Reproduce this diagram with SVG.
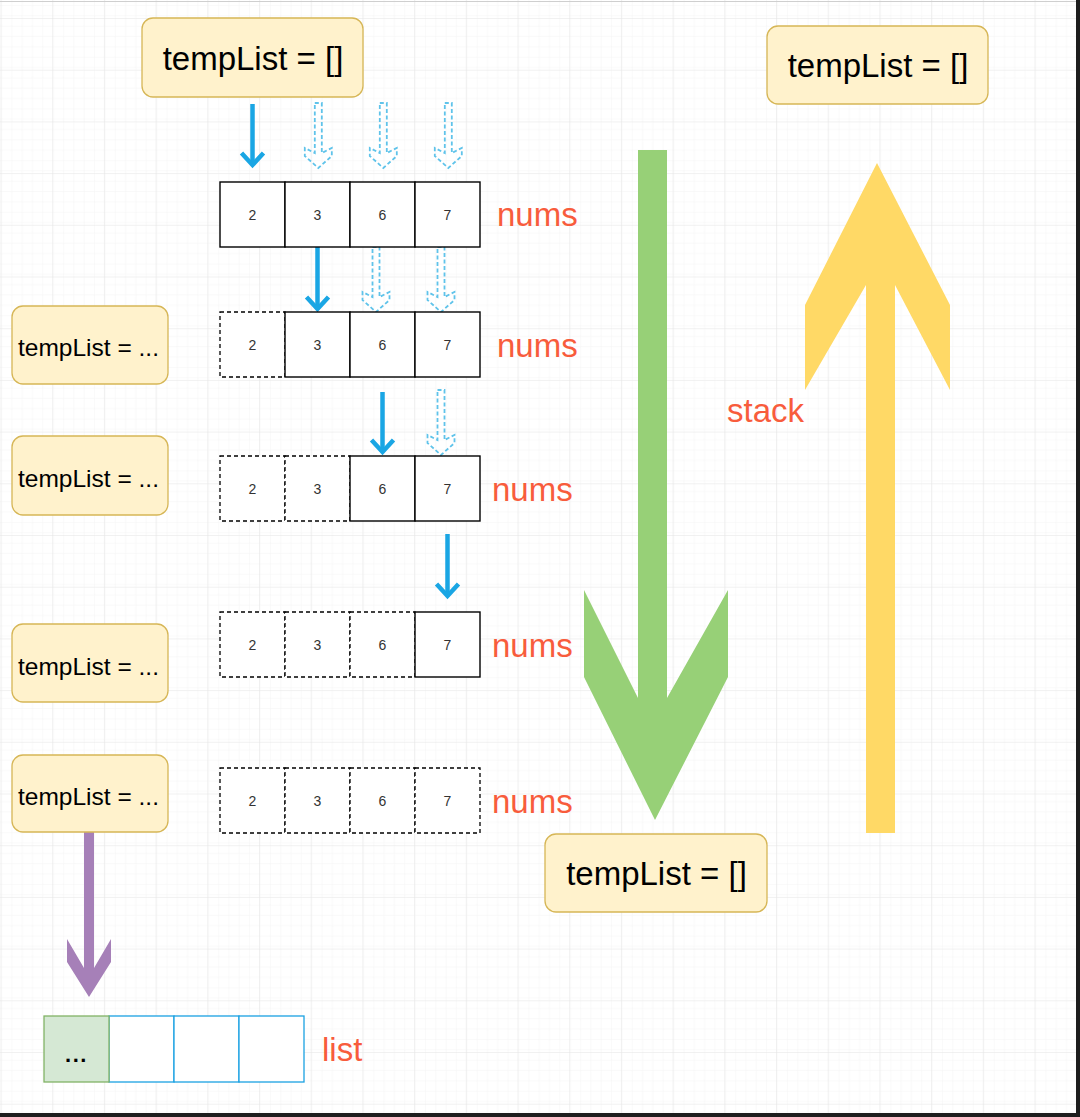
<svg xmlns="http://www.w3.org/2000/svg" width="1080" height="1117" viewBox="0 0 1080 1117">
<defs>
<pattern id="minor" patternUnits="userSpaceOnUse" x="0.5" y="18" width="10.34" height="10.34">
<path d="M 10.34 0 L 0 0 0 10.34" fill="none" stroke="#f3f3f3" stroke-width="1"/>
</pattern>
<pattern id="major" patternUnits="userSpaceOnUse" x="0.5" y="18" width="51.7" height="51.7">
<rect width="51.7" height="51.7" fill="url(#minor)"/>
<path d="M 51.7 0 L 0 0 0 51.7" fill="none" stroke="#e4e4e4" stroke-width="1"/>
</pattern>
</defs>
<style>
.box{fill:#fff2cc;stroke:#d6b656;stroke-width:1.3}
.big{font-family:"Liberation Sans",Arial,sans-serif;font-size:33px;fill:#000;text-anchor:middle}
.small{font-family:"Liberation Sans",Arial,sans-serif;font-size:24.5px;fill:#000}
.cell{fill:#fff;stroke:#000;stroke-width:1.4}
.dcell{fill:#fff;stroke:#000;stroke-width:1.3;stroke-dasharray:4 3}
.num{font-family:"Liberation Sans",Arial,sans-serif;font-size:14px;fill:#333;text-anchor:middle}
.lbl{font-family:"Liberation Sans",Arial,sans-serif;font-size:33px;fill:#f85c3c}
.solid{fill:none;stroke:#1aa6e4;stroke-width:4.5}
.head{fill:none;stroke:#1aa6e4;stroke-width:4.5;stroke-linejoin:miter;stroke-miterlimit:10}
.hollow{fill:none;stroke:#5fc3ea;stroke-width:1.8;stroke-dasharray:4 2.5}
.lcell{fill:#fff;stroke:#1ba1e2;stroke-width:1.3}
</style>
<rect width="1080" height="1117" fill="#fff"/>
<rect width="1080" height="1117" fill="url(#major)"/>
<line x1="0" y1="1.5" x2="1080" y2="1.5" stroke="#cfcfcf" stroke-width="1"/>

<g id="connectors">
  <path class="solid" d="M252.5 104 V164"/><polyline class="head" points="241.5,153 252.5,165 263.5,153"/>
  <path class="solid" d="M317.5 247 V308"/><polyline class="head" points="306.5,297 317.5,309 328.5,297"/>
  <path class="solid" d="M382.5 392 V451"/><polyline class="head" points="371.5,440 382.5,452 393.5,440"/>
  <path class="solid" d="M447.5 534 V595"/><polyline class="head" points="436.5,584 447.5,596 458.5,584"/>
  <polygon class="hollow" points="314.8,103 321.8,103 321.8,153 331.8,148 331.8,156 318.3,168 304.8,156 304.8,148 314.8,153"/>
  <polygon class="hollow" points="379.8,103 386.8,103 386.8,153 396.8,148 396.8,156 383.3,168 369.8,156 369.8,148 379.8,153"/>
  <polygon class="hollow" points="444.8,103 451.8,103 451.8,153 461.8,148 461.8,156 448.3,168 434.8,156 434.8,148 444.8,153"/>
  <polygon class="hollow" points="372.5,247 379.5,247 379.5,297 389.5,292 389.5,300 376,312 362.5,300 362.5,292 372.5,297"/>
  <polygon class="hollow" points="437.5,247 444.5,247 444.5,297 454.5,292 454.5,300 441,312 427.5,300 427.5,292 437.5,297"/>
  <polygon class="hollow" points="437.5,390 444.5,390 444.5,440 454.5,435 454.5,443 441,455 427.5,443 427.5,435 437.5,440"/>
  <polygon id="green-arrow" fill="#97d077" points="638,150 667,150 667,698 728,590 728,677 655,820 584,677 584,590 638,698"/>
  <polygon id="yellow-arrow" fill="#ffd966" points="866,833 866,285 805,390 805,305 877,163 950,305 950,390 895,285 895,833"/>
  <polygon id="purple-arrow" fill="#a680b8" points="84,827 94,827 94,968 111,939 111,962 89,997 67,962 67,939 84,968"/>
</g>

<g id="box-top">
  <rect class="box" x="142" y="18" width="221" height="79" rx="11"/>
  <text class="big" x="253" y="70">tempList = []</text>
</g>
<g id="box-right">
  <rect class="box" x="767" y="26" width="221" height="78" rx="11"/>
  <text class="big" x="878" y="77">tempList = []</text>
</g>
<g id="box-bottom">
  <rect class="box" x="545" y="834" width="222" height="78" rx="11"/>
  <text class="big" x="656.5" y="885">tempList = []</text>
</g>
<g id="box-l1"><rect class="box" x="12" y="306" width="156" height="78" rx="11"/><text class="small" x="18" y="356">tempList = ...</text></g>
<g id="box-l2"><rect class="box" x="12" y="436" width="156" height="79" rx="11"/><text class="small" x="18" y="487">tempList = ...</text></g>
<g id="box-l3"><rect class="box" x="12" y="624" width="156" height="78" rx="11"/><text class="small" x="18" y="675">tempList = ...</text></g>
<g id="box-l4"><rect class="box" x="12" y="755" width="156" height="77" rx="11"/><text class="small" x="18" y="805">tempList = ...</text></g>

<g id="nums-1">
  <rect class="cell" x="220" y="182" width="65" height="65"/><rect class="cell" x="285" y="182" width="65" height="65"/>
  <rect class="cell" x="350" y="182" width="65" height="65"/><rect class="cell" x="415" y="182" width="65" height="65"/>
  <text class="num" x="252.5" y="219.5">2</text><text class="num" x="317.5" y="219.5">3</text><text class="num" x="382.5" y="219.5">6</text><text class="num" x="447.5" y="219.5">7</text>
  <text class="lbl" x="497" y="226">nums</text>
</g>
<g id="nums-2">
  <rect class="dcell" x="220" y="312" width="65" height="65"/>
  <rect class="cell" x="285" y="312" width="65" height="65"/><rect class="cell" x="350" y="312" width="65" height="65"/><rect class="cell" x="415" y="312" width="65" height="65"/>
  <text class="num" x="252.5" y="349.5">2</text><text class="num" x="317.5" y="349.5">3</text><text class="num" x="382.5" y="349.5">6</text><text class="num" x="447.5" y="349.5">7</text>
  <text class="lbl" x="497" y="357">nums</text>
</g>
<g id="nums-3">
  <rect class="dcell" x="220" y="456" width="65" height="65"/><rect class="dcell" x="285" y="456" width="65" height="65"/>
  <rect class="cell" x="350" y="456" width="65" height="65"/><rect class="cell" x="415" y="456" width="65" height="65"/>
  <text class="num" x="252.5" y="493.5">2</text><text class="num" x="317.5" y="493.5">3</text><text class="num" x="382.5" y="493.5">6</text><text class="num" x="447.5" y="493.5">7</text>
  <text class="lbl" x="492" y="501">nums</text>
</g>
<g id="nums-4">
  <rect class="dcell" x="220" y="612" width="65" height="65"/><rect class="dcell" x="285" y="612" width="65" height="65"/><rect class="dcell" x="350" y="612" width="65" height="65"/>
  <rect class="cell" x="415" y="612" width="65" height="65"/>
  <text class="num" x="252.5" y="649.5">2</text><text class="num" x="317.5" y="649.5">3</text><text class="num" x="382.5" y="649.5">6</text><text class="num" x="447.5" y="649.5">7</text>
  <text class="lbl" x="492" y="657">nums</text>
</g>
<g id="nums-5">
  <rect class="dcell" x="220" y="768" width="65" height="65"/><rect class="dcell" x="285" y="768" width="65" height="65"/>
  <rect class="dcell" x="350" y="768" width="65" height="65"/><rect class="dcell" x="415" y="768" width="65" height="65"/>
  <text class="num" x="252.5" y="805.5">2</text><text class="num" x="317.5" y="805.5">3</text><text class="num" x="382.5" y="805.5">6</text><text class="num" x="447.5" y="805.5">7</text>
  <text class="lbl" x="492" y="813">nums</text>
</g>
<g id="stack-label"><text class="lbl" x="727" y="422">stack</text></g>
<g id="list">
  <rect class="lcell" x="109" y="1016" width="65" height="66"/><rect class="lcell" x="174" y="1016" width="65" height="66"/><rect class="lcell" x="239" y="1016" width="65" height="66"/>
  <rect x="44" y="1016" width="65" height="66" fill="#d5e8d4" stroke="#82b366" stroke-width="1.3"/>
  <text x="76.5" y="1062" font-family="'Liberation Sans',Arial,sans-serif" font-size="22" font-weight="bold" letter-spacing="1.5" text-anchor="middle" fill="#000">...</text>
  <text class="lbl" x="322" y="1061">list</text>
</g>
<rect x="1076" y="0" width="4" height="1117" fill="#1e1e1e"/>
<rect x="0" y="1113" width="1080" height="4" fill="#1e1e1e"/>
</svg>
